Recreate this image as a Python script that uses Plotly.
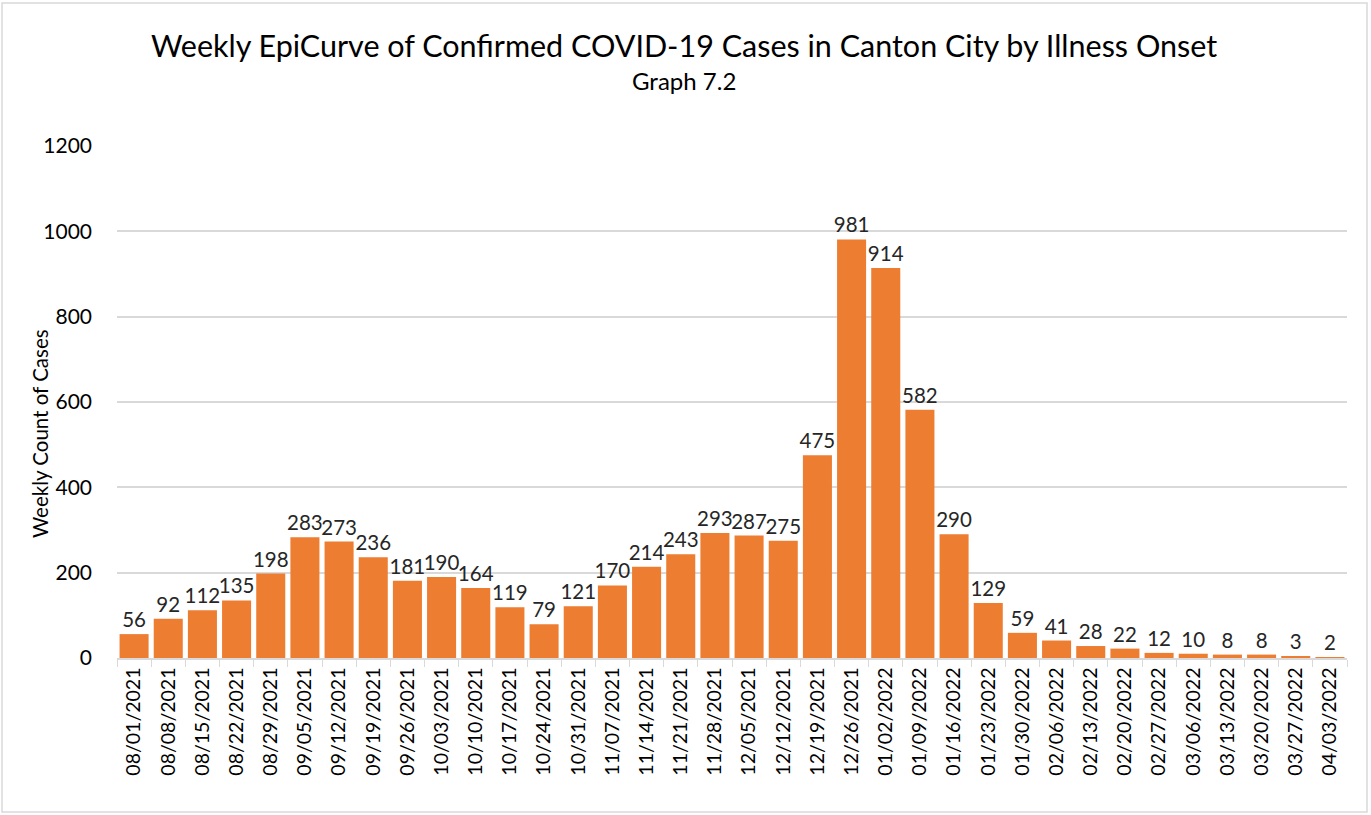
import plotly.graph_objects as go

weeks = ["08/01/2021","08/08/2021","08/15/2021","08/22/2021","08/29/2021","09/05/2021",
         "09/12/2021","09/19/2021","09/26/2021","10/03/2021","10/10/2021","10/17/2021",
         "10/24/2021","10/31/2021","11/07/2021","11/14/2021","11/21/2021","11/28/2021",
         "12/05/2021","12/12/2021","12/19/2021","12/26/2021","01/02/2022","01/09/2022",
         "01/16/2022","01/23/2022","01/30/2022","02/06/2022","02/13/2022","02/20/2022",
         "02/27/2022","03/06/2022","03/13/2022","03/20/2022","03/27/2022","04/03/2022"]
cases = [56,92,112,135,198,283,273,236,181,190,164,119,79,121,170,214,243,293,
         287,275,475,981,914,582,290,129,59,41,28,22,12,10,8,8,3,2]

FONT = "Lato, Carlito, Calibri, sans-serif"
W, H = 1371, 815
L, R, T, B = 117, 24, 146, 157
pw, ph = W - L - R, H - T - B

def px_x(p):
    return (p - L) / pw

def px_y(p):
    return (H - B - p) / ph

fig = go.Figure(go.Bar(
    x=weeks, y=cases,
    marker=dict(color="#ED7D31", line=dict(width=0)),
    text=cases, textposition="outside", constraintext="none",
    textfont=dict(family=FONT, size=20.5, color="#262626"),
    cliponaxis=False,
))

fig.update_layout(
    width=W, height=H,
    margin=dict(l=L, r=R, t=T, b=B, autoexpand=False),
    paper_bgcolor="white", plot_bgcolor="white",
    bargap=0.15,
    showlegend=False,
    font=dict(family=FONT, color="#262626"),
    xaxis=dict(
        type="category", tickangle=-90, automargin=False,
        tickfont=dict(family=FONT, size=19.5, color="#000000"),
        showline=True, linecolor="#D9D9D9", linewidth=1.5,
        ticks="outside", ticklen=7, tickcolor="#D9D9D9", tickson="boundaries",
        showgrid=False,
    ),
    yaxis=dict(
        range=[0, 1200], dtick=200, automargin=False,
        tickfont=dict(family=FONT, size=21, color="#000000"),
        showgrid=True, gridcolor="#D9D9D9", gridwidth=1.5,
        zeroline=False, showline=False, ticks="",
        ticklabelstandoff=24,
    ),
    annotations=[
        dict(text="Weekly EpiCurve of Confirmed COVID-19 Cases in Canton City by Illness Onset",
             xref="paper", yref="paper", x=px_x(684), y=px_y(45), xanchor="center", yanchor="middle",
             showarrow=False, font=dict(family=FONT, size=30.5, color="#000000")),
        dict(text="Graph 7.2",
             xref="paper", yref="paper", x=px_x(684), y=px_y(80), xanchor="center", yanchor="middle",
             showarrow=False, font=dict(family=FONT, size=24, color="#000000")),
        dict(text="Weekly Count of Cases",
             xref="paper", yref="paper", x=px_x(40), y=px_y(434), xanchor="center", yanchor="middle",
             textangle=-90, showarrow=False, font=dict(family=FONT, size=20.5, color="#000000")),
    ],
    shapes=[dict(type="rect", xref="paper", yref="paper",
                 x0=px_x(2), x1=px_x(1367), y0=px_y(812), y1=px_y(3),
                 line=dict(color="#D9D9D9", width=1.5), fillcolor="rgba(0,0,0,0)", layer="below")],
)

fig.write_html("out.html", config={"displayModeBar": False},
               post_script="document.body.style.margin='0';")
